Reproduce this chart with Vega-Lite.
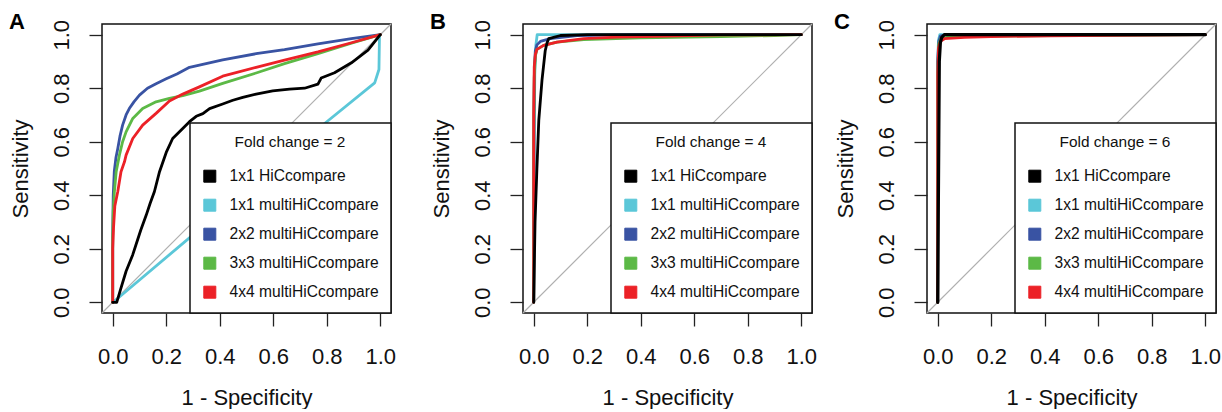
{
  "$schema": "https://vega.github.io/schema/vega-lite/v6.json",
  "background": "white",
  "padding": {"left": 8, "top": 10, "right": 0, "bottom": 0},
  "spacing": 32,
  "config": {
    "font": "Liberation Sans",
    "view": {"stroke": "#111111", "strokeWidth": 1.5},
    "axis": {"domain": false, "grid": false, "tickSize": 13, "tickColor": "#222222", "tickWidth": 1.3,
      "labelFont": "Liberation Sans", "labelFontSize": 22, "labelColor": "#111111",
      "titleFont": "Liberation Sans", "titleFontSize": 22, "titleFontWeight": "normal", "titleColor": "#111111"},
    "axisX": {"labelPadding": 20, "titlePadding": 20, "labelFlush": false, "labelOverlap": false, "labelBaseline": "top"},
    "axisY": {"labelAngle": 270, "labelAlign": "center", "labelBaseline": "alphabetic", "labelPadding": 21, "labelFlush": false, "labelOverlap": false,
      "titleAngle": 270, "titleBaseline": "alphabetic", "titlePadding": 23},
    "legend": {"orient": "bottom-right", "offset": 0, "fillColor": "white", "strokeColor": "#111111", "padding": 12,
      "titleFont": "Liberation Sans", "titleFontSize": 15.4, "titleFontWeight": "normal", "titleColor": "#111111", "titleAnchor": "middle", "titlePadding": 18,
      "labelFont": "Liberation Sans", "labelFontSize": 15.6, "labelColor": "#111111", "labelOffset": 12, "rowPadding": 11,
      "symbolType": "square", "symbolSize": 144, "symbolOffset": 0, "labelLimit": 300},
    "title": {"anchor": "start", "frame": "bounds", "fontSize": 22, "fontWeight": "bold", "font": "Liberation Sans", "color": "#000000", "baseline": "alphabetic", "offset": -14.5}
  },
  "resolve": {"scale": {"color": "independent"}, "legend": {"color": "independent"}},
  "datasets": {
    "diag": [{"x": -0.04, "y": -0.04}, {"x": 1.04, "y": 1.04}],
    "a": [
      {"m": "1x1 multiHiCcompare", "x": 0, "y": 0}, {"m": "1x1 multiHiCcompare", "x": 0.006, "y": 0.004}, {"m": "1x1 multiHiCcompare", "x": 0.3, "y": 0.252}, {"m": "1x1 multiHiCcompare", "x": 0.792, "y": 0.668}, {"m": "1x1 multiHiCcompare", "x": 0.979, "y": 0.82}, {"m": "1x1 multiHiCcompare", "x": 0.995, "y": 0.87}, {"m": "1x1 multiHiCcompare", "x": 0.997, "y": 1}, {"m": "1x1 multiHiCcompare", "x": 1, "y": 1},
      {"m": "2x2 multiHiCcompare", "x": 0, "y": 0}, {"m": "2x2 multiHiCcompare", "x": 0, "y": 0.25}, {"m": "2x2 multiHiCcompare", "x": 0.002, "y": 0.4}, {"m": "2x2 multiHiCcompare", "x": 0.006, "y": 0.49}, {"m": "2x2 multiHiCcompare", "x": 0.012, "y": 0.54}, {"m": "2x2 multiHiCcompare", "x": 0.019, "y": 0.575}, {"m": "2x2 multiHiCcompare", "x": 0.027, "y": 0.62}, {"m": "2x2 multiHiCcompare", "x": 0.037, "y": 0.662}, {"m": "2x2 multiHiCcompare", "x": 0.05, "y": 0.7}, {"m": "2x2 multiHiCcompare", "x": 0.062, "y": 0.724}, {"m": "2x2 multiHiCcompare", "x": 0.08, "y": 0.75}, {"m": "2x2 multiHiCcompare", "x": 0.1, "y": 0.774}, {"m": "2x2 multiHiCcompare", "x": 0.13, "y": 0.8}, {"m": "2x2 multiHiCcompare", "x": 0.162, "y": 0.817}, {"m": "2x2 multiHiCcompare", "x": 0.2, "y": 0.835}, {"m": "2x2 multiHiCcompare", "x": 0.24, "y": 0.853}, {"m": "2x2 multiHiCcompare", "x": 0.287, "y": 0.878}, {"m": "2x2 multiHiCcompare", "x": 0.324, "y": 0.886}, {"m": "2x2 multiHiCcompare", "x": 0.411, "y": 0.906}, {"m": "2x2 multiHiCcompare", "x": 0.536, "y": 0.929}, {"m": "2x2 multiHiCcompare", "x": 0.642, "y": 0.944}, {"m": "2x2 multiHiCcompare", "x": 0.767, "y": 0.966}, {"m": "2x2 multiHiCcompare", "x": 0.892, "y": 0.985}, {"m": "2x2 multiHiCcompare", "x": 1, "y": 1},
      {"m": "3x3 multiHiCcompare", "x": 0, "y": 0}, {"m": "3x3 multiHiCcompare", "x": 0, "y": 0.24}, {"m": "3x3 multiHiCcompare", "x": 0.002, "y": 0.34}, {"m": "3x3 multiHiCcompare", "x": 0.006, "y": 0.41}, {"m": "3x3 multiHiCcompare", "x": 0.013, "y": 0.488}, {"m": "3x3 multiHiCcompare", "x": 0.025, "y": 0.55}, {"m": "3x3 multiHiCcompare", "x": 0.037, "y": 0.6}, {"m": "3x3 multiHiCcompare", "x": 0.05, "y": 0.637}, {"m": "3x3 multiHiCcompare", "x": 0.075, "y": 0.687}, {"m": "3x3 multiHiCcompare", "x": 0.112, "y": 0.724}, {"m": "3x3 multiHiCcompare", "x": 0.162, "y": 0.749}, {"m": "3x3 multiHiCcompare", "x": 0.212, "y": 0.762}, {"m": "3x3 multiHiCcompare", "x": 0.262, "y": 0.772}, {"m": "3x3 multiHiCcompare", "x": 0.324, "y": 0.789}, {"m": "3x3 multiHiCcompare", "x": 0.411, "y": 0.818}, {"m": "3x3 multiHiCcompare", "x": 0.536, "y": 0.857}, {"m": "3x3 multiHiCcompare", "x": 0.642, "y": 0.892}, {"m": "3x3 multiHiCcompare", "x": 0.767, "y": 0.929}, {"m": "3x3 multiHiCcompare", "x": 0.892, "y": 0.968}, {"m": "3x3 multiHiCcompare", "x": 1, "y": 1},
      {"m": "4x4 multiHiCcompare", "x": 0, "y": 0}, {"m": "4x4 multiHiCcompare", "x": 0, "y": 0.2}, {"m": "4x4 multiHiCcompare", "x": 0.003, "y": 0.277}, {"m": "4x4 multiHiCcompare", "x": 0.008, "y": 0.36}, {"m": "4x4 multiHiCcompare", "x": 0.019, "y": 0.414}, {"m": "4x4 multiHiCcompare", "x": 0.031, "y": 0.488}, {"m": "4x4 multiHiCcompare", "x": 0.044, "y": 0.525}, {"m": "4x4 multiHiCcompare", "x": 0.05, "y": 0.55}, {"m": "4x4 multiHiCcompare", "x": 0.075, "y": 0.612}, {"m": "4x4 multiHiCcompare", "x": 0.112, "y": 0.662}, {"m": "4x4 multiHiCcompare", "x": 0.162, "y": 0.706}, {"m": "4x4 multiHiCcompare", "x": 0.212, "y": 0.752}, {"m": "4x4 multiHiCcompare", "x": 0.262, "y": 0.778}, {"m": "4x4 multiHiCcompare", "x": 0.324, "y": 0.805}, {"m": "4x4 multiHiCcompare", "x": 0.411, "y": 0.845}, {"m": "4x4 multiHiCcompare", "x": 0.536, "y": 0.878}, {"m": "4x4 multiHiCcompare", "x": 0.642, "y": 0.905}, {"m": "4x4 multiHiCcompare", "x": 0.767, "y": 0.936}, {"m": "4x4 multiHiCcompare", "x": 0.892, "y": 0.97}, {"m": "4x4 multiHiCcompare", "x": 1, "y": 1},
      {"m": "1x1 HiCcompare", "x": 0, "y": 0}, {"m": "1x1 HiCcompare", "x": 0.015, "y": 0}, {"m": "1x1 HiCcompare", "x": 0.03, "y": 0.05}, {"m": "1x1 HiCcompare", "x": 0.05, "y": 0.116}, {"m": "1x1 HiCcompare", "x": 0.075, "y": 0.178}, {"m": "1x1 HiCcompare", "x": 0.087, "y": 0.215}, {"m": "1x1 HiCcompare", "x": 0.105, "y": 0.27}, {"m": "1x1 HiCcompare", "x": 0.125, "y": 0.325}, {"m": "1x1 HiCcompare", "x": 0.14, "y": 0.37}, {"m": "1x1 HiCcompare", "x": 0.156, "y": 0.414}, {"m": "1x1 HiCcompare", "x": 0.175, "y": 0.488}, {"m": "1x1 HiCcompare", "x": 0.2, "y": 0.56}, {"m": "1x1 HiCcompare", "x": 0.224, "y": 0.612}, {"m": "1x1 HiCcompare", "x": 0.256, "y": 0.644}, {"m": "1x1 HiCcompare", "x": 0.287, "y": 0.675}, {"m": "1x1 HiCcompare", "x": 0.312, "y": 0.695}, {"m": "1x1 HiCcompare", "x": 0.337, "y": 0.705}, {"m": "1x1 HiCcompare", "x": 0.362, "y": 0.724}, {"m": "1x1 HiCcompare", "x": 0.411, "y": 0.741}, {"m": "1x1 HiCcompare", "x": 0.449, "y": 0.755}, {"m": "1x1 HiCcompare", "x": 0.486, "y": 0.766}, {"m": "1x1 HiCcompare", "x": 0.536, "y": 0.778}, {"m": "1x1 HiCcompare", "x": 0.598, "y": 0.79}, {"m": "1x1 HiCcompare", "x": 0.661, "y": 0.797}, {"m": "1x1 HiCcompare", "x": 0.717, "y": 0.8}, {"m": "1x1 HiCcompare", "x": 0.767, "y": 0.815}, {"m": "1x1 HiCcompare", "x": 0.779, "y": 0.838}, {"m": "1x1 HiCcompare", "x": 0.829, "y": 0.858}, {"m": "1x1 HiCcompare", "x": 0.892, "y": 0.895}, {"m": "1x1 HiCcompare", "x": 0.954, "y": 0.942}, {"m": "1x1 HiCcompare", "x": 1, "y": 1}
    ],
    "b": [
      {"m": "1x1 multiHiCcompare", "x": 0, "y": 0}, {"m": "1x1 multiHiCcompare", "x": 0.002, "y": 0.6}, {"m": "1x1 multiHiCcompare", "x": 0.004, "y": 0.85}, {"m": "1x1 multiHiCcompare", "x": 0.008, "y": 0.96}, {"m": "1x1 multiHiCcompare", "x": 0.013, "y": 1}, {"m": "1x1 multiHiCcompare", "x": 1, "y": 1},
      {"m": "2x2 multiHiCcompare", "x": 0, "y": 0}, {"m": "2x2 multiHiCcompare", "x": 0.001, "y": 0.7}, {"m": "2x2 multiHiCcompare", "x": 0.003, "y": 0.88}, {"m": "2x2 multiHiCcompare", "x": 0.006, "y": 0.94}, {"m": "2x2 multiHiCcompare", "x": 0.012, "y": 0.962}, {"m": "2x2 multiHiCcompare", "x": 0.025, "y": 0.975}, {"m": "2x2 multiHiCcompare", "x": 0.062, "y": 0.985}, {"m": "2x2 multiHiCcompare", "x": 0.162, "y": 0.997}, {"m": "2x2 multiHiCcompare", "x": 0.4, "y": 1}, {"m": "2x2 multiHiCcompare", "x": 1, "y": 1},
      {"m": "3x3 multiHiCcompare", "x": 0, "y": 0}, {"m": "3x3 multiHiCcompare", "x": 0, "y": 0.6}, {"m": "3x3 multiHiCcompare", "x": 0.002, "y": 0.84}, {"m": "3x3 multiHiCcompare", "x": 0.006, "y": 0.92}, {"m": "3x3 multiHiCcompare", "x": 0.012, "y": 0.945}, {"m": "3x3 multiHiCcompare", "x": 0.037, "y": 0.96}, {"m": "3x3 multiHiCcompare", "x": 0.087, "y": 0.972}, {"m": "3x3 multiHiCcompare", "x": 0.187, "y": 0.982}, {"m": "3x3 multiHiCcompare", "x": 0.4, "y": 0.988}, {"m": "3x3 multiHiCcompare", "x": 0.7, "y": 0.993}, {"m": "3x3 multiHiCcompare", "x": 0.9, "y": 0.997}, {"m": "3x3 multiHiCcompare", "x": 1, "y": 1},
      {"m": "4x4 multiHiCcompare", "x": 0, "y": 0}, {"m": "4x4 multiHiCcompare", "x": 0, "y": 0.7}, {"m": "4x4 multiHiCcompare", "x": 0.002, "y": 0.88}, {"m": "4x4 multiHiCcompare", "x": 0.006, "y": 0.925}, {"m": "4x4 multiHiCcompare", "x": 0.012, "y": 0.945}, {"m": "4x4 multiHiCcompare", "x": 0.037, "y": 0.96}, {"m": "4x4 multiHiCcompare", "x": 0.087, "y": 0.972}, {"m": "4x4 multiHiCcompare", "x": 0.187, "y": 0.985}, {"m": "4x4 multiHiCcompare", "x": 0.311, "y": 0.991}, {"m": "4x4 multiHiCcompare", "x": 0.5, "y": 0.995}, {"m": "4x4 multiHiCcompare", "x": 0.7, "y": 0.999}, {"m": "4x4 multiHiCcompare", "x": 1, "y": 1},
      {"m": "1x1 HiCcompare", "x": 0, "y": 0}, {"m": "1x1 HiCcompare", "x": 0.005, "y": 0.3}, {"m": "1x1 HiCcompare", "x": 0.012, "y": 0.5}, {"m": "1x1 HiCcompare", "x": 0.019, "y": 0.68}, {"m": "1x1 HiCcompare", "x": 0.031, "y": 0.83}, {"m": "1x1 HiCcompare", "x": 0.043, "y": 0.94}, {"m": "1x1 HiCcompare", "x": 0.05, "y": 0.97}, {"m": "1x1 HiCcompare", "x": 0.056, "y": 0.985}, {"m": "1x1 HiCcompare", "x": 0.1, "y": 0.997}, {"m": "1x1 HiCcompare", "x": 0.2, "y": 1}, {"m": "1x1 HiCcompare", "x": 1, "y": 1}
    ],
    "c": [
      {"m": "1x1 multiHiCcompare", "x": 0, "y": 0}, {"m": "1x1 multiHiCcompare", "x": 0, "y": 0.9}, {"m": "1x1 multiHiCcompare", "x": 0.003, "y": 0.98}, {"m": "1x1 multiHiCcompare", "x": 0.008, "y": 1}, {"m": "1x1 multiHiCcompare", "x": 1, "y": 1},
      {"m": "2x2 multiHiCcompare", "x": 0, "y": 0}, {"m": "2x2 multiHiCcompare", "x": 0, "y": 0.9}, {"m": "2x2 multiHiCcompare", "x": 0.004, "y": 0.975}, {"m": "2x2 multiHiCcompare", "x": 0.01, "y": 0.995}, {"m": "2x2 multiHiCcompare", "x": 0.03, "y": 1}, {"m": "2x2 multiHiCcompare", "x": 1, "y": 1},
      {"m": "3x3 multiHiCcompare", "x": 0, "y": 0}, {"m": "3x3 multiHiCcompare", "x": 0, "y": 0.85}, {"m": "3x3 multiHiCcompare", "x": 0.004, "y": 0.965}, {"m": "3x3 multiHiCcompare", "x": 0.012, "y": 0.985}, {"m": "3x3 multiHiCcompare", "x": 0.05, "y": 0.993}, {"m": "3x3 multiHiCcompare", "x": 0.2, "y": 0.995}, {"m": "3x3 multiHiCcompare", "x": 1, "y": 1},
      {"m": "4x4 multiHiCcompare", "x": 0, "y": 0}, {"m": "4x4 multiHiCcompare", "x": 0, "y": 0.85}, {"m": "4x4 multiHiCcompare", "x": 0.003, "y": 0.95}, {"m": "4x4 multiHiCcompare", "x": 0.01, "y": 0.975}, {"m": "4x4 multiHiCcompare", "x": 0.025, "y": 0.985}, {"m": "4x4 multiHiCcompare", "x": 0.1, "y": 0.99}, {"m": "4x4 multiHiCcompare", "x": 0.2, "y": 0.993}, {"m": "4x4 multiHiCcompare", "x": 0.42, "y": 0.996}, {"m": "4x4 multiHiCcompare", "x": 1, "y": 1},
      {"m": "1x1 HiCcompare", "x": 0, "y": 0}, {"m": "1x1 HiCcompare", "x": 0.002, "y": 0.3}, {"m": "1x1 HiCcompare", "x": 0.004, "y": 0.6}, {"m": "1x1 HiCcompare", "x": 0.006, "y": 0.9}, {"m": "1x1 HiCcompare", "x": 0.01, "y": 0.97}, {"m": "1x1 HiCcompare", "x": 0.015, "y": 0.99}, {"m": "1x1 HiCcompare", "x": 0.025, "y": 1}, {"m": "1x1 HiCcompare", "x": 1, "y": 1}
    ]
  },
  "hconcat": [
    {
      "width": 289, "height": 289,
      "title": {"text": "A"},
      "encoding": {
        "x": {"field": "x", "type": "quantitative", "scale": {"domain": [-0.04, 1.04], "nice": false, "zero": false}, "axis": {"values": [0, 0.2, 0.4, 0.6, 0.8, 1], "format": ".1f", "title": "1 - Specificity"}},
        "y": {"field": "y", "type": "quantitative", "scale": {"domain": [-0.04, 1.04], "nice": false, "zero": false}, "axis": {"values": [0, 0.2, 0.4, 0.6, 0.8, 1], "format": ".1f", "title": "Sensitivity"}}
      },
      "layer": [
        {"data": {"name": "diag"}, "mark": {"type": "line", "color": "#b0b0b0", "strokeWidth": 1.2}},
        {"data": {"name": "a"}, "transform": [{"filter": "datum.m !== '1x1 HiCcompare'"}], "mark": {"type": "line", "strokeWidth": 2.8, "strokeJoin": "round", "strokeCap": "round"},
          "encoding": {"order": [{"field": "x", "type": "quantitative"}, {"field": "y", "type": "quantitative"}],
            "color": {"field": "m", "type": "nominal", "scale": {"domain": ["1x1 HiCcompare", "1x1 multiHiCcompare", "2x2 multiHiCcompare", "3x3 multiHiCcompare", "4x4 multiHiCcompare"], "range": ["#000000", "#5bc7d8", "#3953a3", "#5cb946", "#ec2127"]},
              "legend": {"title": "Fold change = 2", "encode": {"symbols": {"update": {"fill": [{"test": "datum.value === '1x1 HiCcompare'", "value": "#000000"}, {"test": "datum.value === '1x1 multiHiCcompare'", "value": "#5bc7d8"}, {"test": "datum.value === '2x2 multiHiCcompare'", "value": "#3953a3"}, {"test": "datum.value === '3x3 multiHiCcompare'", "value": "#5cb946"}, {"value": "#ec2127"}], "fillOpacity": {"value": 1}, "opacity": {"value": 1}, "stroke": {"value": "#222222"}, "strokeWidth": {"value": 1}}}, "legend": {"update": {"strokeWidth": {"value": 1.5}}}}}}}},
        {"data": {"name": "a"}, "transform": [{"filter": "datum.m === '1x1 HiCcompare'"}], "mark": {"type": "line", "strokeWidth": 2.8, "strokeJoin": "round", "strokeCap": "round"},
          "encoding": {"order": [{"field": "x", "type": "quantitative"}, {"field": "y", "type": "quantitative"}],
            "color": {"field": "m", "type": "nominal"}}}
      ]
    },
    {
      "spacing": 15,
      "resolve": {"scale": {"color": "independent"}, "legend": {"color": "independent"}},
      "hconcat": [
        {
          "width": 289, "height": 289,
          "title": {"text": "B"},
          "encoding": {
            "x": {"field": "x", "type": "quantitative", "scale": {"domain": [-0.04, 1.04], "nice": false, "zero": false}, "axis": {"values": [0, 0.2, 0.4, 0.6, 0.8, 1], "format": ".1f", "title": "1 - Specificity"}},
            "y": {"field": "y", "type": "quantitative", "scale": {"domain": [-0.04, 1.04], "nice": false, "zero": false}, "axis": {"values": [0, 0.2, 0.4, 0.6, 0.8, 1], "format": ".1f", "title": "Sensitivity"}}
          },
          "layer": [
            {"data": {"name": "diag"}, "mark": {"type": "line", "color": "#b0b0b0", "strokeWidth": 1.2}},
            {"data": {"name": "b"}, "transform": [{"filter": "datum.m !== '1x1 HiCcompare'"}], "mark": {"type": "line", "strokeWidth": 2.8, "strokeJoin": "round", "strokeCap": "round"},
              "encoding": {"order": [{"field": "x", "type": "quantitative"}, {"field": "y", "type": "quantitative"}],
                "color": {"field": "m", "type": "nominal", "scale": {"domain": ["1x1 HiCcompare", "1x1 multiHiCcompare", "2x2 multiHiCcompare", "3x3 multiHiCcompare", "4x4 multiHiCcompare"], "range": ["#000000", "#5bc7d8", "#3953a3", "#5cb946", "#ec2127"]},
                  "legend": {"title": "Fold change = 4", "encode": {"symbols": {"update": {"fill": [{"test": "datum.value === '1x1 HiCcompare'", "value": "#000000"}, {"test": "datum.value === '1x1 multiHiCcompare'", "value": "#5bc7d8"}, {"test": "datum.value === '2x2 multiHiCcompare'", "value": "#3953a3"}, {"test": "datum.value === '3x3 multiHiCcompare'", "value": "#5cb946"}, {"value": "#ec2127"}], "fillOpacity": {"value": 1}, "opacity": {"value": 1}, "stroke": {"value": "#222222"}, "strokeWidth": {"value": 1}}}, "legend": {"update": {"strokeWidth": {"value": 1.5}}}}}}}},
            {"data": {"name": "b"}, "transform": [{"filter": "datum.m === '1x1 HiCcompare'"}], "mark": {"type": "line", "strokeWidth": 2.8, "strokeJoin": "round", "strokeCap": "round"},
              "encoding": {"order": [{"field": "x", "type": "quantitative"}, {"field": "y", "type": "quantitative"}],
                "color": {"field": "m", "type": "nominal"}}}
          ]
        },
        {
          "width": 289, "height": 289,
          "title": {"text": "C"},
          "encoding": {
            "x": {"field": "x", "type": "quantitative", "scale": {"domain": [-0.04, 1.04], "nice": false, "zero": false}, "axis": {"values": [0, 0.2, 0.4, 0.6, 0.8, 1], "format": ".1f", "title": "1 - Specificity"}},
            "y": {"field": "y", "type": "quantitative", "scale": {"domain": [-0.04, 1.04], "nice": false, "zero": false}, "axis": {"values": [0, 0.2, 0.4, 0.6, 0.8, 1], "format": ".1f", "title": "Sensitivity"}}
          },
          "layer": [
            {"data": {"name": "diag"}, "mark": {"type": "line", "color": "#b0b0b0", "strokeWidth": 1.2}},
            {"data": {"name": "c"}, "transform": [{"filter": "datum.m !== '1x1 HiCcompare'"}], "mark": {"type": "line", "strokeWidth": 2.8, "strokeJoin": "round", "strokeCap": "round"},
              "encoding": {"order": [{"field": "x", "type": "quantitative"}, {"field": "y", "type": "quantitative"}],
                "color": {"field": "m", "type": "nominal", "scale": {"domain": ["1x1 HiCcompare", "1x1 multiHiCcompare", "2x2 multiHiCcompare", "3x3 multiHiCcompare", "4x4 multiHiCcompare"], "range": ["#000000", "#5bc7d8", "#3953a3", "#5cb946", "#ec2127"]},
                  "legend": {"title": "Fold change = 6", "encode": {"symbols": {"update": {"fill": [{"test": "datum.value === '1x1 HiCcompare'", "value": "#000000"}, {"test": "datum.value === '1x1 multiHiCcompare'", "value": "#5bc7d8"}, {"test": "datum.value === '2x2 multiHiCcompare'", "value": "#3953a3"}, {"test": "datum.value === '3x3 multiHiCcompare'", "value": "#5cb946"}, {"value": "#ec2127"}], "fillOpacity": {"value": 1}, "opacity": {"value": 1}, "stroke": {"value": "#222222"}, "strokeWidth": {"value": 1}}}, "legend": {"update": {"strokeWidth": {"value": 1.5}}}}}}}},
            {"data": {"name": "c"}, "transform": [{"filter": "datum.m === '1x1 HiCcompare'"}], "mark": {"type": "line", "strokeWidth": 3.2, "strokeJoin": "round", "strokeCap": "round"},
              "encoding": {"order": [{"field": "x", "type": "quantitative"}, {"field": "y", "type": "quantitative"}],
                "color": {"field": "m", "type": "nominal"}}}
          ]
        }
      ]
    }
  ]
}
